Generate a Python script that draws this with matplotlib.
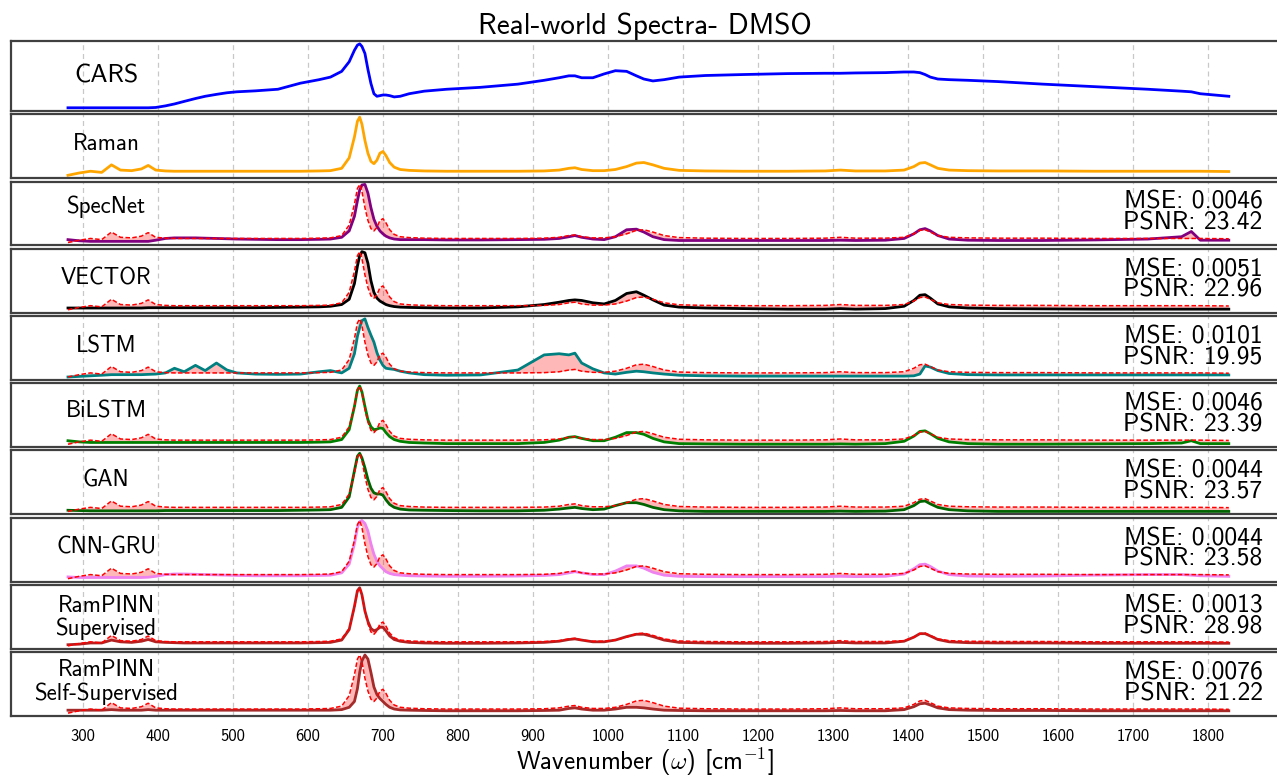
import numpy as np
import matplotlib
matplotlib.use("Agg")
import matplotlib.pyplot as plt

plt.rcParams["font.family"] = ["cmss10", "DejaVu Sans"]
plt.rcParams["mathtext.fontset"] = "cm"
plt.rcParams["axes.unicode_minus"] = False

# wavenumber grid (cm^-1), shared by every spectrum
wavenumber = [
    280, 295, 310, 325, 338, 350, 365, 378, 387, 397,
    410, 422, 435, 450, 463, 478, 492, 505, 530, 560,
    590, 615, 630, 645, 655, 662, 666, 669, 672, 676,
    680, 684, 688, 692, 696, 700, 704, 709, 715, 723,
    735, 755, 785, 830, 880, 915, 935, 948, 956, 965,
    980, 995, 1010, 1025, 1038, 1048, 1060, 1075, 1095, 1130,
    1180, 1240, 1290, 1310, 1330, 1370, 1395, 1408, 1416, 1423,
    1430, 1440, 1455, 1480, 1520, 1580, 1650, 1720, 1765, 1778,
    1790, 1828,
]

cars = [
    0.00, 0.00, 0.00, 0.00, 0.00, 0.00, 0.00, 0.00, 0.00, 0.005,
    0.03, 0.06, 0.10, 0.145, 0.18, 0.21, 0.235, 0.25, 0.265, 0.29,
    0.385, 0.44, 0.48, 0.57, 0.72, 0.90, 0.98, 1.00, 0.96, 0.85,
    0.60, 0.38, 0.22, 0.18, 0.19, 0.20, 0.20, 0.19, 0.17, 0.18,
    0.22, 0.26, 0.29, 0.32, 0.37, 0.43, 0.47, 0.50, 0.50, 0.47,
    0.47, 0.53, 0.58, 0.57, 0.50, 0.45, 0.42, 0.44, 0.48, 0.505,
    0.52, 0.535, 0.54, 0.54, 0.545, 0.55, 0.56, 0.56, 0.55, 0.52,
    0.48, 0.45, 0.44, 0.43, 0.41, 0.37, 0.33, 0.29, 0.26, 0.25,
    0.22, 0.18,
]

raman = [
    0.00, 0.04, 0.07, 0.05, 0.18, 0.09, 0.08, 0.11, 0.17, 0.09,
    0.075, 0.07, 0.07, 0.07, 0.07, 0.07, 0.07, 0.07, 0.07, 0.07,
    0.07, 0.075, 0.08, 0.12, 0.30, 0.66, 0.93, 1.00, 0.88, 0.60,
    0.38, 0.24, 0.20, 0.26, 0.38, 0.41, 0.34, 0.22, 0.14, 0.10,
    0.085, 0.075, 0.07, 0.07, 0.07, 0.075, 0.09, 0.12, 0.13, 0.10,
    0.08, 0.08, 0.10, 0.15, 0.21, 0.22, 0.18, 0.12, 0.085, 0.075,
    0.07, 0.07, 0.075, 0.09, 0.075, 0.075, 0.09, 0.15, 0.21, 0.22,
    0.18, 0.12, 0.09, 0.08, 0.075, 0.075, 0.07, 0.07, 0.07, 0.07,
    0.07, 0.065,
]

specnet = [
    0.05, 0.03, 0.02, 0.02, 0.02, 0.02, 0.02, 0.02, 0.02, 0.04,
    0.07, 0.08, 0.08, 0.08, 0.075, 0.07, 0.065, 0.06, 0.055, 0.05,
    0.05, 0.055, 0.06, 0.09, 0.20, 0.45, 0.72, 0.90, 0.99, 1.00,
    0.85, 0.60, 0.40, 0.28, 0.20, 0.15, 0.11, 0.08, 0.06, 0.05,
    0.05, 0.05, 0.045, 0.045, 0.05, 0.055, 0.07, 0.10, 0.12, 0.09,
    0.06, 0.05, 0.10, 0.22, 0.23, 0.18, 0.10, 0.05, 0.035, 0.035,
    0.035, 0.035, 0.035, 0.04, 0.035, 0.04, 0.07, 0.15, 0.22, 0.24,
    0.20, 0.12, 0.06, 0.04, 0.035, 0.035, 0.045, 0.06, 0.10, 0.19,
    0.04, 0.04,
]

vector = [
    0.03, 0.03, 0.03, 0.03, 0.03, 0.03, 0.03, 0.03, 0.035, 0.035,
    0.035, 0.035, 0.035, 0.035, 0.035, 0.035, 0.035, 0.035, 0.035, 0.04,
    0.045, 0.05, 0.06, 0.09, 0.18, 0.45, 0.75, 0.93, 1.00, 0.98,
    0.80, 0.50, 0.30, 0.20, 0.15, 0.12, 0.09, 0.07, 0.055, 0.045,
    0.04, 0.035, 0.03, 0.03, 0.05, 0.09, 0.13, 0.16, 0.17, 0.16,
    0.12, 0.10, 0.16, 0.28, 0.31, 0.25, 0.17, 0.08, 0.045, 0.03,
    0.02, 0.01, 0.01, 0.02, 0.01, 0.02, 0.06, 0.16, 0.25, 0.26,
    0.20, 0.10, 0.05, 0.03, 0.02, 0.015, 0.01, 0.01, 0.01, 0.01,
    0.01, 0.01,
]

lstm = [
    0.00, 0.01, 0.02, 0.03, 0.04, 0.04, 0.04, 0.04, 0.045, 0.05,
    0.07, 0.15, 0.09, 0.20, 0.11, 0.24, 0.12, 0.07, 0.05, 0.045,
    0.05, 0.09, 0.11, 0.07, 0.15, 0.40, 0.70, 0.85, 0.97, 1.00,
    0.85, 0.72, 0.60, 0.42, 0.29, 0.20, 0.15, 0.14, 0.13, 0.10,
    0.07, 0.04, 0.03, 0.035, 0.12, 0.38, 0.40, 0.38, 0.41, 0.24,
    0.14, 0.07, 0.05, 0.08, 0.10, 0.09, 0.07, 0.05, 0.03, 0.02,
    0.015, 0.015, 0.015, 0.015, 0.015, 0.015, 0.015, 0.02, 0.05, 0.19,
    0.17, 0.11, 0.06, 0.04, 0.035, 0.035, 0.035, 0.035, 0.035, 0.035,
    0.035, 0.035,
]

bilstm = [
    0.06, 0.04, 0.03, 0.03, 0.03, 0.03, 0.03, 0.03, 0.03, 0.03,
    0.03, 0.03, 0.03, 0.03, 0.03, 0.03, 0.03, 0.03, 0.03, 0.03,
    0.03, 0.035, 0.04, 0.08, 0.25, 0.65, 0.93, 1.00, 0.90, 0.65,
    0.42, 0.30, 0.25, 0.26, 0.28, 0.27, 0.20, 0.13, 0.08, 0.05,
    0.03, 0.02, 0.01, 0.01, 0.01, 0.03, 0.07, 0.12, 0.13, 0.10,
    0.06, 0.06, 0.12, 0.20, 0.20, 0.17, 0.10, 0.04, 0.01, 0.005,
    0.00, 0.00, 0.00, 0.005, 0.00, 0.01, 0.05, 0.14, 0.22, 0.23,
    0.18, 0.10, 0.04, 0.01, 0.00, 0.00, 0.005, 0.01, 0.02, 0.06,
    0.01, 0.01,
]

gan = [
    0.02, 0.015, 0.01, 0.01, 0.01, 0.01, 0.01, 0.01, 0.01, 0.01,
    0.015, 0.015, 0.015, 0.015, 0.015, 0.015, 0.015, 0.015, 0.015, 0.015,
    0.02, 0.025, 0.03, 0.07, 0.25, 0.70, 0.95, 1.00, 0.92, 0.75,
    0.55, 0.40, 0.32, 0.30, 0.30, 0.28, 0.20, 0.12, 0.07, 0.04,
    0.025, 0.02, 0.015, 0.01, 0.01, 0.02, 0.04, 0.06, 0.07, 0.05,
    0.03, 0.04, 0.10, 0.15, 0.15, 0.12, 0.07, 0.03, 0.01, 0.00,
    0.00, 0.00, 0.00, 0.005, 0.00, 0.005, 0.03, 0.10, 0.17, 0.18,
    0.13, 0.07, 0.03, 0.01, 0.00, 0.00, 0.00, 0.00, 0.00, 0.00,
    0.00, 0.00,
]

cnn_gru = [
    0.03, 0.02, 0.02, 0.02, 0.02, 0.02, 0.02, 0.02, 0.025, 0.04,
    0.07, 0.08, 0.08, 0.075, 0.07, 0.065, 0.06, 0.055, 0.05, 0.05,
    0.05, 0.055, 0.06, 0.10, 0.25, 0.60, 0.88, 0.98, 1.00, 0.95,
    0.82, 0.60, 0.42, 0.30, 0.22, 0.17, 0.12, 0.09, 0.07, 0.06,
    0.05, 0.045, 0.04, 0.04, 0.045, 0.055, 0.07, 0.10, 0.12, 0.10,
    0.07, 0.07, 0.13, 0.22, 0.22, 0.18, 0.11, 0.06, 0.04, 0.035,
    0.035, 0.035, 0.035, 0.04, 0.035, 0.04, 0.08, 0.17, 0.24, 0.25,
    0.21, 0.13, 0.07, 0.045, 0.04, 0.045, 0.06, 0.07, 0.07, 0.06,
    0.05, 0.04,
]

rampinn_sup = [
    0.02, 0.03, 0.05, 0.05, 0.10, 0.07, 0.06, 0.08, 0.11, 0.07,
    0.06, 0.055, 0.05, 0.05, 0.05, 0.05, 0.05, 0.05, 0.05, 0.05,
    0.05, 0.055, 0.06, 0.10, 0.28, 0.68, 0.95, 1.00, 0.88, 0.60,
    0.42, 0.30, 0.26, 0.28, 0.32, 0.32, 0.26, 0.17, 0.11, 0.08,
    0.06, 0.05, 0.045, 0.045, 0.05, 0.06, 0.08, 0.11, 0.12, 0.10,
    0.07, 0.07, 0.10, 0.16, 0.20, 0.20, 0.16, 0.10, 0.06, 0.05,
    0.045, 0.045, 0.05, 0.06, 0.05, 0.05, 0.08, 0.15, 0.21, 0.21,
    0.17, 0.11, 0.07, 0.055, 0.05, 0.05, 0.045, 0.045, 0.045, 0.045,
    0.045, 0.045,
]

rampinn_self = [
    0.05, 0.05, 0.05, 0.05, 0.06, 0.05, 0.05, 0.05, 0.06, 0.05,
    0.05, 0.05, 0.05, 0.05, 0.05, 0.05, 0.05, 0.05, 0.05, 0.05,
    0.05, 0.05, 0.05, 0.06, 0.10, 0.20, 0.42, 0.70, 0.90, 1.00,
    0.93, 0.70, 0.45, 0.32, 0.25, 0.20, 0.15, 0.10, 0.07, 0.055,
    0.05, 0.045, 0.04, 0.04, 0.04, 0.045, 0.05, 0.08, 0.09, 0.07,
    0.05, 0.05, 0.07, 0.10, 0.10, 0.09, 0.07, 0.05, 0.045, 0.04,
    0.04, 0.04, 0.04, 0.045, 0.04, 0.04, 0.06, 0.11, 0.16, 0.17,
    0.14, 0.09, 0.06, 0.05, 0.045, 0.045, 0.04, 0.04, 0.04, 0.04,
    0.04, 0.04,
]

model_names = ["SpecNet", "VECTOR", "LSTM", "BiLSTM", "GAN", "CNN-GRU",
               "RamPINN\nSupervised", "RamPINN\nSelf-Supervised"]
model_preds = [specnet, vector, lstm, bilstm, gan, cnn_gru, rampinn_sup, rampinn_self]
model_colors = ["purple", "black", "teal", "green", "darkgreen", "violet",
                "firebrick", "brown"]
mse = ["0.0046", "0.0051", "0.0101", "0.0046", "0.0044", "0.0044", "0.0013", "0.0076"]
psnr = ["23.42", "22.96", "19.95", "23.39", "23.57", "23.58", "28.98", "21.22"]
label_y = [0.60, 0.53, 0.53, 0.55, 0.53, 0.53, 0.49, 0.53]

x = np.array(wavenumber)

fig = plt.figure(figsize=(12.77, 7.76), dpi=100)
gs = fig.add_gridspec(10, 1, height_ratios=[1.1] + [1] * 9,
                      left=0.0086, right=1.0016, top=0.9476, bottom=0.0773,
                      hspace=0.051)
axes = [fig.add_subplot(gs[i]) for i in range(10)]

for ax in axes:
    ax.set_xlim(204, 1895)
    ax.set_xticks(np.arange(300, 1801, 100))
    ax.set_yticks([])
    ax.grid(axis="x", color="#c8c8c8", linestyle=(0, (4, 3)), linewidth=0.9)
    ax.set_axisbelow(True)
    for sp in ax.spines.values():
        sp.set_color("#404040")
        sp.set_linewidth(1.6)
    ax.tick_params(axis="x", length=0, labelbottom=False)

axes[-1].tick_params(axis="x", labelbottom=True, labelsize=12, pad=9)
axes[-1].set_xlabel(r"Wavenumber ($\omega$) [cm$^{-1}$]", fontsize=18, labelpad=2)
axes[0].set_title("Real-world Spectra- DMSO", fontsize=21, pad=5)

# input CARS and reference Raman spectra
axes[0].plot(x, cars, color="blue", linewidth=2)
axes[0].text(0.075, 0.5, "CARS", transform=axes[0].transAxes,
             ha="center", va="center", fontsize=18.5)
axes[1].plot(x, raman, color="orange", linewidth=2)
axes[1].text(0.075, 0.53, "Raman", transform=axes[1].transAxes,
             ha="center", va="center", fontsize=16.5)

# model reconstructions against the reference
for ax, name, pred, col, m, p, ly in zip(axes[2:], model_names, model_preds,
                                         model_colors, mse, psnr, label_y):
    ax.fill_between(x, raman, pred, color="red", alpha=0.28, linewidth=0)
    ax.plot(x, pred, color=col, linewidth=2)
    ax.plot(x, raman, color="red", linestyle=(0, (3, 1.5)), linewidth=1.1)
    ax.text(0.075, ly, name, transform=ax.transAxes, ha="center", va="center",
            fontsize=16.5, linespacing=1.05)
    ax.text(0.987, 0.51, f"MSE: {m}\nPSNR: {p}", transform=ax.transAxes,
            ha="right", va="center", fontsize=18.5, linespacing=0.88)

fig.savefig("out.png", dpi=100)
